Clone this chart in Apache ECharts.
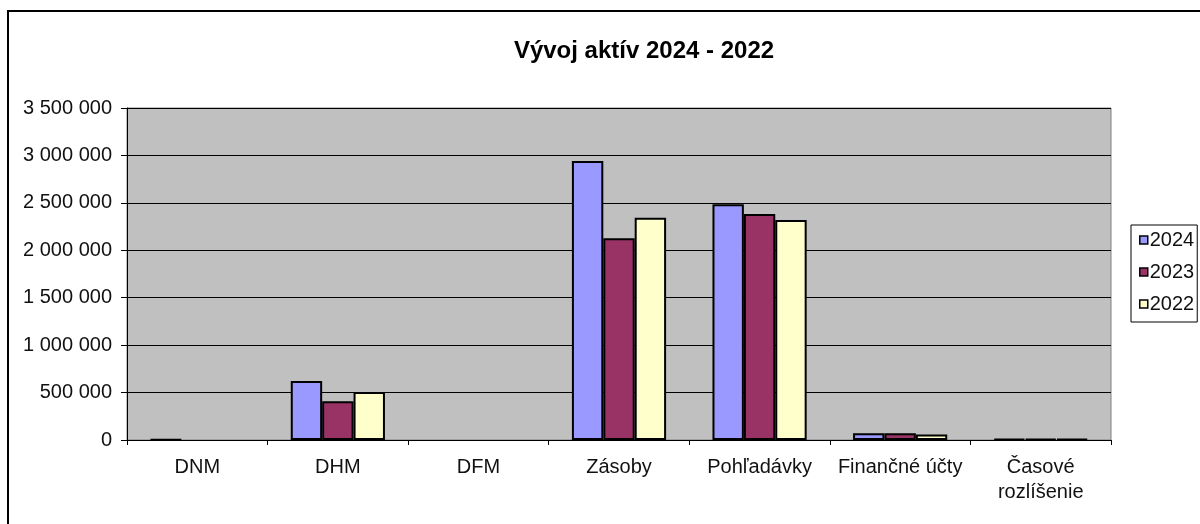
<!DOCTYPE html>
<html>
<head>
<meta charset="utf-8">
<script src="https://cdn.jsdelivr.net/npm/echarts@6/dist/echarts.min.js"></script>
<style>
html,body{margin:0;padding:0;background:#fff;}
#chart{width:1200px;height:524px;}
</style>
</head>
<body>
<div id="chart"></div>
<script>
const categories = ['DNM', 'DHM', 'DFM', 'Zásoby', 'Pohľadávky', 'Finančné účty', 'Časové\nrozlíšenie'];
const years = ['2024', '2023', '2022'];
const values2024 = [6000, 622000, 0, 2940000, 2485000, 72000, 12000];
const values2023 = [0, 408000, 0, 2126000, 2383000, 70000, 12000];
const values2022 = [0, 506000, 0, 2343000, 2319000, 58000, 12000];
const yTicks = [0, 500000, 1000000, 1500000, 2000000, 2500000, 3000000, 3500000];

const colors = ['#9999FF', '#993366', '#FFFFCC'];
const seriesValues = [values2024, values2023, values2022];
const font = 'Liberation Sans, Arial, sans-serif';

function fmt(v) {
  return String(v).replace(/\B(?=(\d{3})+(?!\d))/g, ' ');
}

const chart = echarts.init(document.getElementById('chart'), null, {renderer: 'canvas'});
chart.setOption({
  animation: false,
  backgroundColor: '#fff',
  title: {
    text: 'Vývoj aktív 2024 - 2022',
    left: 639,
    textAlign: 'center',
    top: 34,
    textStyle: {fontFamily: font, fontSize: 24, fontWeight: 'bold', color: '#000'}
  },
  legend: {
    orient: 'vertical',
    left: 1131,
    top: 225,
    padding: [5, 3, 8, 8],
    itemGap: 12,
    itemWidth: 8,
    itemHeight: 8,
    icon: 'rect',
    borderColor: '#000',
    borderWidth: 1,
    textStyle: {fontFamily: font, fontSize: 20, color: '#111', padding: [0, 0, 0, -3]},
    itemStyle: {borderColor: '#000', borderWidth: 1.5},
    data: years
  },
  grid: {
    left: 127, top: 108, right: 89, bottom: 84,
    show: true,
    backgroundColor: '#C0C0C0',
    borderColor: '#808080',
    borderWidth: 1,
    containLabel: false
  },
  xAxis: {
    type: 'category',
    data: categories,
    axisLine: {lineStyle: {color: '#000', width: 1}},
    axisTick: {show: true, length: 5, lineStyle: {color: '#000'}},
    axisLabel: {fontFamily: font, fontSize: 20, color: '#111', margin: 15, lineHeight: 25, interval: 0}
  },
  yAxis: {
    type: 'value',
    min: yTicks[0],
    max: yTicks[yTicks.length - 1],
    interval: yTicks[1] - yTicks[0],
    axisLine: {show: true, lineStyle: {color: '#000', width: 1}},
    axisTick: {show: true, length: 6, lineStyle: {color: '#000'}},
    axisLabel: {fontFamily: font, fontSize: 20, color: '#111', margin: 15, formatter: fmt},
    splitLine: {lineStyle: {color: '#000', width: 1}}
  },
  series: years.map((y, i) => ({
    name: y,
    type: 'bar',
    data: seriesValues[i].map(v => v === 0 ? '-' : v),
    barGap: '0%',
    barCategoryGap: '33%',
    itemStyle: {color: colors[i], borderColor: '#000', borderWidth: 2}
  })),
  graphic: [
    {type: 'line', shape: {x1: 8, y1: 11, x2: 1200, y2: 11}, style: {stroke: '#000', lineWidth: 2}, silent: true},
    {type: 'line', shape: {x1: 8, y1: 10, x2: 8, y2: 524}, style: {stroke: '#000', lineWidth: 2}, silent: true}
  ]
});
</script>
</body>
</html>
